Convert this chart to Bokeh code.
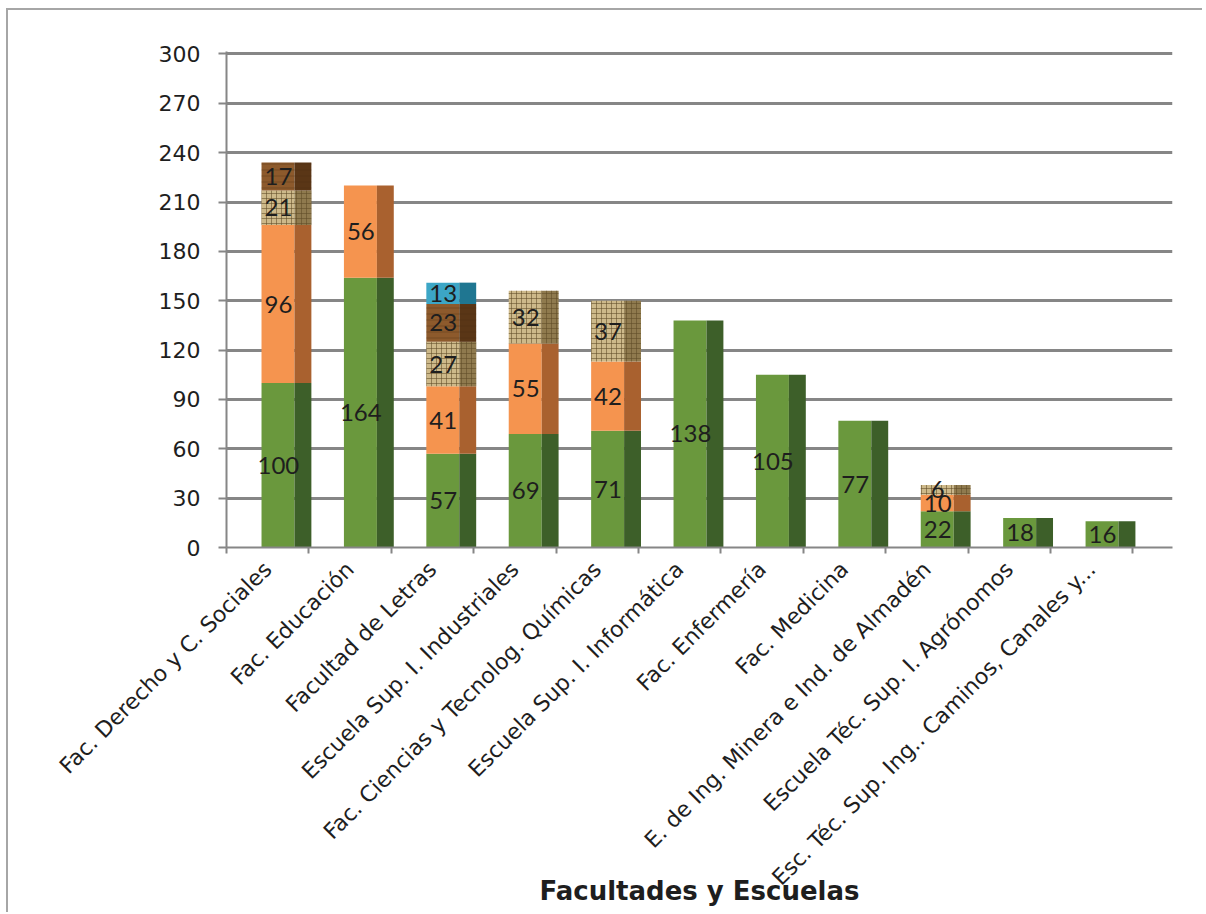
import numpy as np
from bokeh.plotting import figure
from bokeh.models import Range1d, FixedTicker
from bokeh.core.properties import value
from bokeh.embed import file_html
from bokeh.resources import INLINE

categories = [
    "Fac. Derecho y C. Sociales",
    "Fac. Educación",
    "Facultad de Letras",
    "Escuela Sup. I. Industriales",
    "Fac. Ciencias y Tecnolog. Químicas",
    "Escuela Sup. I. Informática",
    "Fac. Enfermería",
    "Fac. Medicina",
    "E. de Ing. Minera e Ind. de Almadén",
    "Escuela Téc. Sup. I. Agrónomos",
    "Esc. Téc. Sup. Ing.. Caminos, Canales y...",
]
serie_verde = [100, 164, 57, 69, 71, 138, 105, 77, 22, 18, 16]
serie_naranja = [96, 56, 41, 55, 42, 0, 0, 0, 10, 0, 0]
serie_arpillera = [21, 0, 27, 32, 37, 0, 0, 0, 6, 0, 0]
serie_madera = [17, 0, 23, 0, 0, 0, 0, 0, 0, 0, 0]
serie_azul = [0, 0, 13, 0, 0, 0, 0, 0, 0, 0, 0]
y_ticks = [0, 30, 60, 90, 120, 150, 180, 210, 240, 270, 300]
x_title = "Facultades y Escuelas"

series = [serie_verde, serie_naranja, serie_arpillera, serie_madera, serie_azul]
styles = [
    dict(front="#6a983d", side="#3d5f29", hatch=None),
    dict(front="#f5944f", side="#a9612f", hatch=None),
    dict(front="#cdb98a", side="#8f7a4e", hatch=("+", "#5e4a26", 0.55, 5)),
    dict(front="#8d5a2c", side="#5a3616", hatch=("horizontal_line", "#4a2a10", 0.35, 6)),
    dict(front="#3ca6c6", side="#1f7691", hatch=None),
]

AXIS_GRAY = "#868686"
TEXT = "#1e1e1e"

p = figure(width=1196, height=904, output_backend="svg", toolbar_location=None,
           x_range=Range1d(0, 11.48), y_range=Range1d(0, 301.5),
           min_border_left=218, min_border_right=32, min_border_top=41,
           min_border_bottom=367)
p.outline_line_color = None
p.background_fill_color = "white"
p.border_fill_color = "white"
p.styles = {"border-top": "2px solid #a6a6a6", "border-left": "2px solid #a6a6a6",
            "margin-left": "6px", "margin-top": "8px"}

n = len(categories)
idx = np.arange(n)
front_l = idx + 0.425
front_r = idx + 0.825
side_r = idx + 1.03
centers = idx + 0.63
tick_pos = idx + 0.5

bottom = np.zeros(n)
for vals, st in zip(series, styles):
    v = np.array(vals, dtype=float)
    top = bottom + v
    m = v > 0
    kw = {}
    if st["hatch"]:
        hp, hc, ha, hs = st["hatch"]
        kw = dict(hatch_pattern=hp, hatch_color=hc, hatch_alpha=ha, hatch_scale=hs)
    p.quad(left=front_l[m], right=front_r[m], bottom=bottom[m], top=top[m],
           fill_color=st["front"], line_color=None, **kw)
    p.quad(left=front_r[m], right=side_r[m], bottom=bottom[m], top=top[m],
           fill_color=st["side"], line_color=None, **kw)
    p.text(x=centers[m], y=(bottom[m] + top[m]) / 2, text=[str(int(x)) for x in v[m]],
           text_align="center", text_baseline="middle", text_color=TEXT,
           text_font=value("Lato"), text_font_size="24px")
    bottom = top

# axes
p.yaxis.ticker = FixedTicker(ticks=y_ticks)
p.yaxis.axis_line_color = AXIS_GRAY
p.yaxis.axis_line_width = 2
p.yaxis.major_tick_line_color = AXIS_GRAY
p.yaxis.major_tick_line_width = 2
p.yaxis.major_tick_out = 8
p.yaxis.major_tick_in = 0
p.yaxis.minor_tick_line_color = None
p.yaxis.major_label_standoff = 18
p.yaxis.major_label_text_font = "DejaVu Sans"
p.yaxis.major_label_text_font_size = "22px"
p.yaxis.major_label_text_color = TEXT

p.xaxis.ticker = FixedTicker(ticks=list(tick_pos), minor_ticks=list(range(n + 1)))
p.xaxis.major_label_overrides = {float(t): c for t, c in zip(tick_pos, categories)}
p.xaxis.major_label_orientation = np.pi / 4
p.xaxis.major_tick_line_color = None
p.xaxis.major_tick_out = 0
p.xaxis.major_tick_in = 0
p.xaxis.minor_tick_line_color = AXIS_GRAY
p.xaxis.minor_tick_line_width = 2
p.xaxis.minor_tick_out = 6
p.xaxis.minor_tick_in = 0
p.xaxis.axis_line_color = AXIS_GRAY
p.xaxis.axis_line_width = 2
p.xaxis.major_label_standoff = 12
p.xaxis.major_label_text_font = "DejaVu Sans"
p.xaxis.major_label_text_font_size = "22px"
p.xaxis.major_label_text_color = TEXT
p.xaxis.axis_label = x_title
p.xaxis.axis_label_standoff = -26
p.xaxis.axis_label_text_font = "DejaVu Sans"
p.xaxis.axis_label_text_font_style = "bold"
p.xaxis.axis_label_text_font_size = "26px"
p.xaxis.axis_label_text_color = TEXT

p.xgrid.grid_line_color = None
p.ygrid.ticker = FixedTicker(ticks=y_ticks[1:])
p.ygrid.grid_line_color = AXIS_GRAY
p.ygrid.grid_line_width = 3
p.ygrid.level = "underlay"

open("out.html", "w").write(file_html(p, INLINE))
